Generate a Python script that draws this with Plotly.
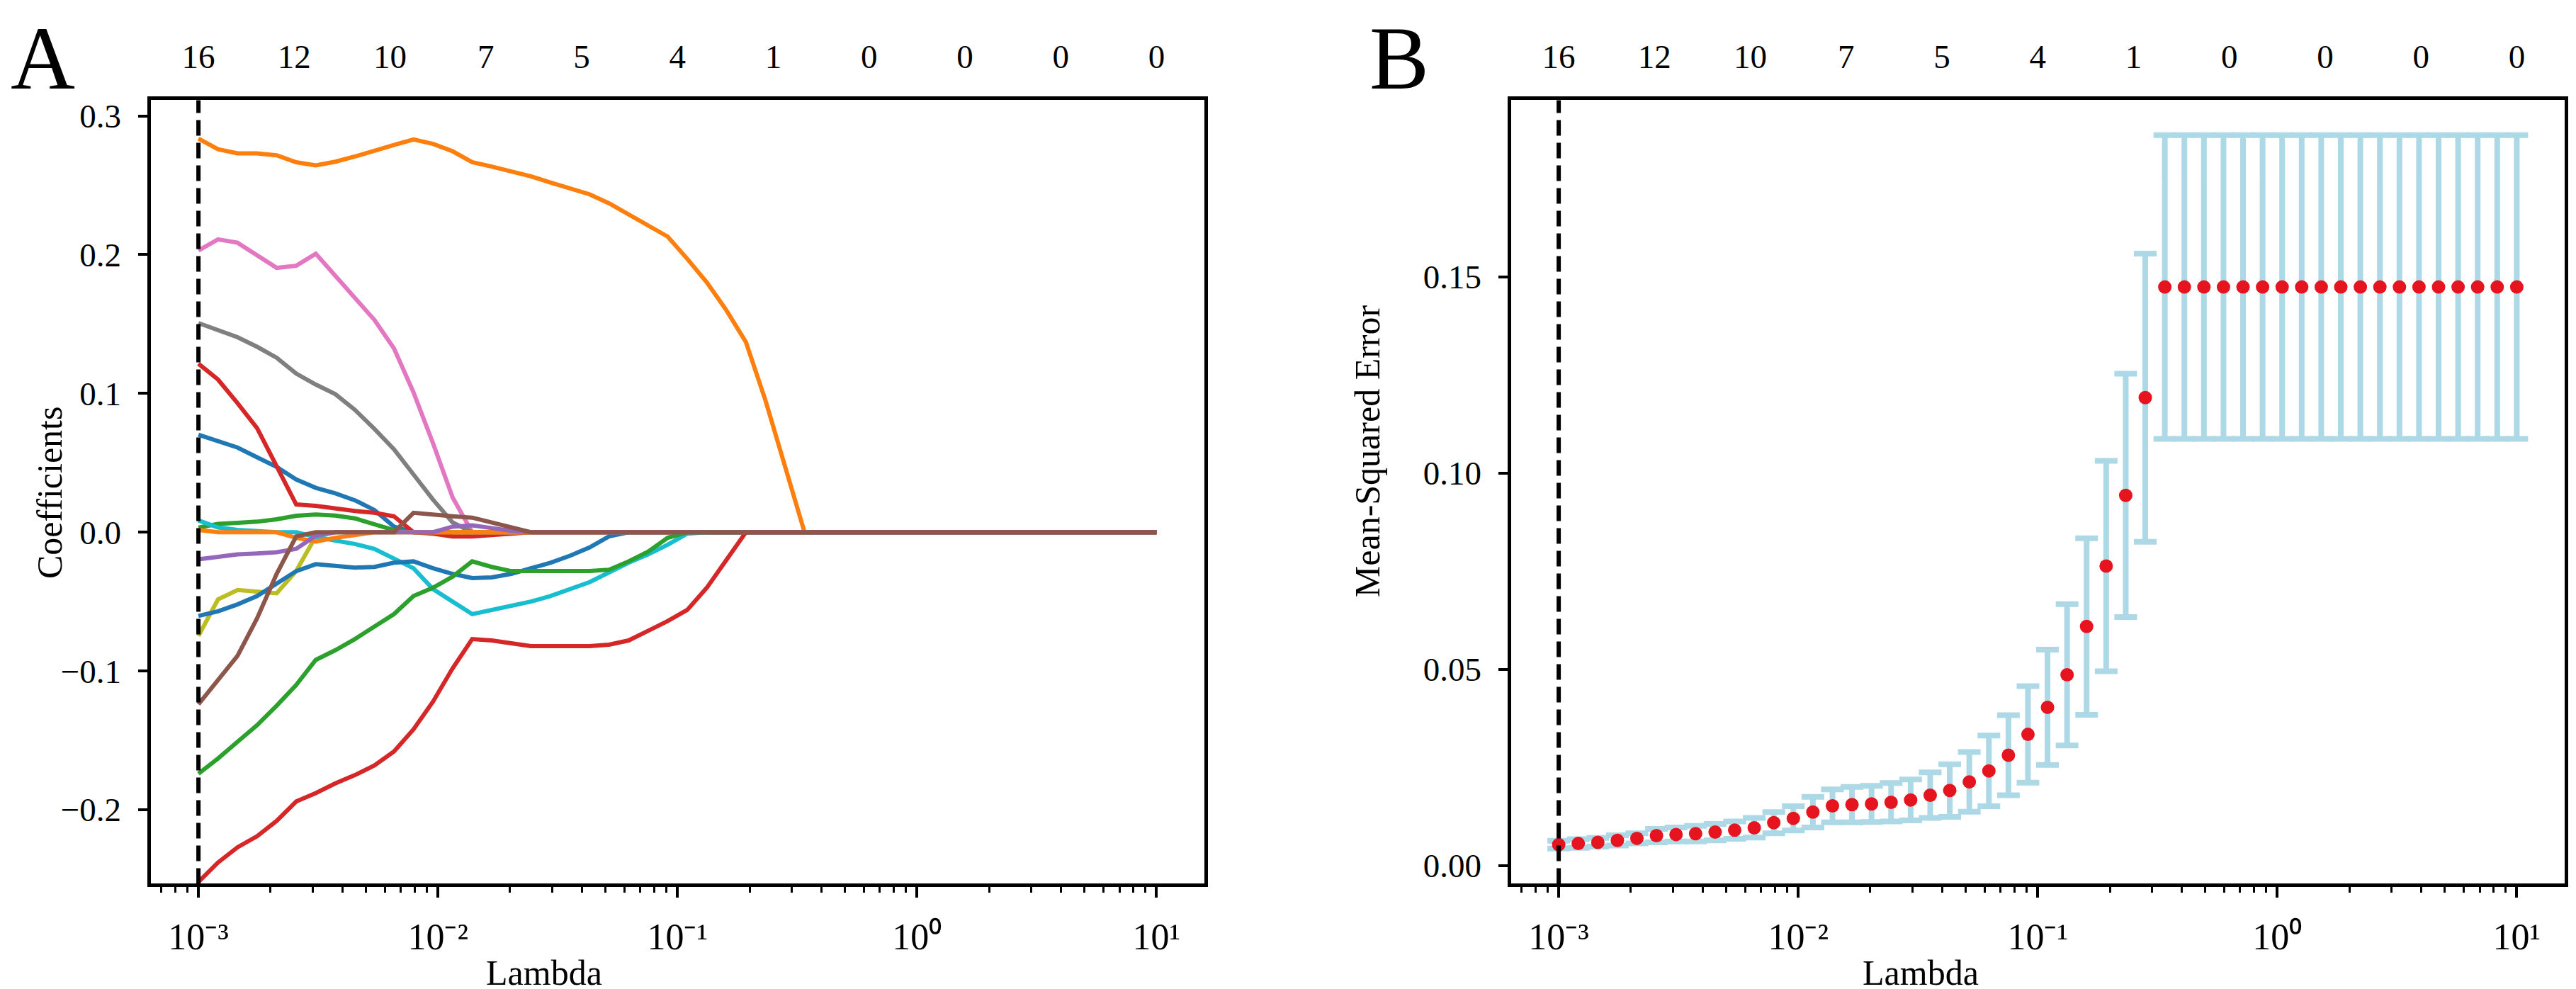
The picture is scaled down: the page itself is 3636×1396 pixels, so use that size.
import plotly.graph_objects as go

# lambda grid used for the path and for the CV curve
lambdas = [
    0.001, 0.00120679, 0.00145635, 0.00175751, 0.00212095, 0.00255955, 0.00308884,
    0.00372759, 0.00449843, 0.00542868, 0.00655129, 0.00790604, 0.00954095,
    0.01151395, 0.01389495, 0.01676833, 0.0202359, 0.02442053, 0.02947052,
    0.0355648, 0.04291934, 0.05179475, 0.06250552, 0.0754312, 0.09102982,
    0.10985411, 0.13257114, 0.15998587, 0.19306977, 0.23299518, 0.28117687,
    0.33932218, 0.40949151, 0.49417134, 0.59636233, 0.71968567, 0.86851137,
    1.04811313, 1.26485522, 1.52641797, 1.84206997, 2.22299648, 2.6826958,
    3.23745754, 3.90693994, 4.71486636, 5.68986603, 6.86648845, 8.28642773, 10.0,
]

# coefficient paths (first values, the rest stay at zero)
blue_pos = [0.0703, 0.066, 0.061, 0.054, 0.047, 0.038, 0.032, 0.028, 0.023, 0.016, 0.004]
orange_big = [0.2836, 0.276, 0.273, 0.273, 0.2716, 0.2666, 0.2643, 0.267, 0.2707, 0.2745,
              0.279, 0.283, 0.2798, 0.2745, 0.2666, 0.2635, 0.26, 0.2565, 0.252, 0.248,
              0.2435, 0.237, 0.229, 0.221, 0.213, 0.197, 0.18, 0.16, 0.137, 0.095, 0.048]
green_pos = [0.0034, 0.006, 0.0068, 0.0076, 0.0093, 0.0119, 0.0127, 0.012, 0.01, 0.006, 0.0015]
red_pos = [0.1214, 0.11, 0.093, 0.075, 0.0475, 0.02, 0.019, 0.017, 0.0153, 0.014, 0.0115,
           0.0, -0.001, -0.003, -0.003, -0.002, -0.001]
pink = [0.203, 0.211, 0.2086, 0.1995, 0.1905, 0.192, 0.2007, 0.1848, 0.1689, 0.153,
        0.1325, 0.1007, 0.064, 0.025]
gray = [0.1507, 0.146, 0.1405, 0.1336, 0.1257, 0.1143, 0.1064, 0.0995, 0.0882, 0.0745,
        0.0598, 0.0416, 0.0234, 0.007]
olive = [-0.0747, -0.0484, -0.0416, -0.043, -0.044, -0.028, -0.003]
cyan = [0.0085, 0.0034, 0.0017, 0.0008, 0.0, 0.0, -0.0034, -0.006, -0.0085, -0.012,
        -0.019, -0.026, -0.041, -0.05, -0.059, -0.056, -0.053, -0.05, -0.046, -0.041,
        -0.036, -0.029, -0.022, -0.016, -0.009, -0.001]
blue_neg = [-0.0603, -0.057, -0.052, -0.046, -0.037, -0.028, -0.023, -0.0246, -0.0255,
            -0.025, -0.022, -0.021, -0.026, -0.03, -0.033, -0.0325, -0.03, -0.026, -0.022,
            -0.017, -0.011, -0.003]
orange_small = [0.0017, 0.0, 0.0, 0.0, 0.0, -0.004, -0.0068, -0.004, -0.0017]
green_neg = [-0.174, -0.163, -0.151, -0.139, -0.125, -0.11, -0.092, -0.085, -0.077, -0.068,
             -0.059, -0.046, -0.04, -0.032, -0.021, -0.025, -0.028, -0.028, -0.028, -0.028,
             -0.028, -0.027, -0.021, -0.014, -0.004]
red_neg = [-0.252, -0.238, -0.227, -0.219, -0.208, -0.194, -0.188, -0.181, -0.175, -0.168,
           -0.158, -0.142, -0.122, -0.098, -0.077, -0.078, -0.08, -0.082, -0.082, -0.082,
           -0.082, -0.081, -0.078, -0.071, -0.064, -0.056, -0.04, -0.02]
purple = [-0.0195, -0.0178, -0.016, -0.0153, -0.0144, -0.012, -0.0025, 0.0, 0.0, 0.0,
          0.0, 0.0, 0.0, 0.004, 0.005, 0.003, 0.001]
brown = [-0.124, -0.106, -0.089, -0.062, -0.03, -0.003, 0.0, 0.0, 0.0, 0.0, 0.0,
         0.014, 0.0125, 0.0115, 0.0105, 0.007, 0.003]

# drawing order follows the colour cycle
paths = [
    (blue_pos, "#1f77b4"), (orange_big, "#ff7f0e"), (green_pos, "#2ca02c"),
    (red_pos, "#d62728"), (pink, "#e377c2"), (gray, "#7f7f7f"), (olive, "#bcbd22"),
    (cyan, "#17becf"), (blue_neg, "#1f77b4"), (orange_small, "#ff7f0e"),
    (green_neg, "#2ca02c"), (red_neg, "#d62728"), (purple, "#9467bd"), (brown, "#8c564b"),
]

# cross-validation curve
mse_mean = [0.0053, 0.0056, 0.0059, 0.0064, 0.0069, 0.0076, 0.0079, 0.0081, 0.0085, 0.009,
            0.0096, 0.0109, 0.012, 0.0136, 0.0152, 0.0155, 0.0157, 0.0161, 0.0167, 0.0179,
            0.0191, 0.0213, 0.0241, 0.0281, 0.0334, 0.0403, 0.0486, 0.0609, 0.0763, 0.0943,
            0.1192] + [0.1474] * 19
mse_err = [0.001, 0.0011, 0.0011, 0.0013, 0.0013, 0.0017, 0.0018, 0.002, 0.0021, 0.0022,
           0.0025, 0.0027, 0.0031, 0.0039, 0.0042, 0.0045, 0.0046, 0.0049, 0.0052, 0.0058,
           0.0067, 0.0076, 0.009, 0.0102, 0.0123, 0.0147, 0.018, 0.0225, 0.0268, 0.031,
           0.0367] + [0.0387] * 19

best_lambda = 0.001

# bottom axis labels
decade_ticks = [0.001, 0.01, 0.1, 1, 10]
decade_labels = ["10\u207b\u00b3", "10\u207b\u00b2", "10\u207b\u00b9", "10\u2070", "10\u00b9"]

# number of non-zero coefficients shown on top
top_tick_exps = [-3, -2.6, -2.2, -1.8, -1.4, -1.0, -0.6, -0.2, 0.2, 0.6, 1.0]
top_tick_labels = ["16", "12", "10", "7", "5", "4", "1", "0", "0", "0", "0"]

FONT = "Liberation Serif, Times New Roman, serif"
W, H = 3636, 1396

fig = go.Figure()

for values, color in paths:
    ys = values + [0.0] * (len(lambdas) - len(values))
    fig.add_trace(go.Scatter(x=lambdas, y=ys, mode="lines", line=dict(color=color, width=6),
                             xaxis="x", yaxis="y", showlegend=False))

fig.add_trace(go.Scatter(
    x=lambdas, y=mse_mean, mode="markers",
    marker=dict(color="#e6141e", size=19),
    error_y=dict(type="data", array=mse_err, visible=True, color="#add8e6",
                 thickness=8, width=16),
    xaxis="x2", yaxis="y2", showlegend=False,
))

# invisible traces so the top axes get drawn
fig.add_trace(go.Scatter(x=[lambdas[0]], y=[0], mode="markers", opacity=0,
                         xaxis="x3", yaxis="y", showlegend=False, hoverinfo="skip"))
fig.add_trace(go.Scatter(x=[lambdas[0]], y=[0], mode="markers", opacity=0,
                         xaxis="x4", yaxis="y2", showlegend=False, hoverinfo="skip"))

for xref, yref in [("x", "y"), ("x2", "y2")]:
    fig.add_shape(type="line", xref=xref, yref=yref + " domain", x0=best_lambda, x1=best_lambda,
                  y0=0, y1=1, line=dict(color="black", width=6, dash="22px,10px"))

dom_a = [204.5 / W, 1692 / W]
dom_b = [2124.5 / W, 3612 / W]
dom_y = [1 - 1240 / H, 1 - 130.8 / H]

minor_vals = [m * 10 ** e for e in range(-4, 1) for m in range(2, 10) if m * 10 ** e > 0.00063]

tick_font = dict(family=FONT, size=47, color="black")
decade_font = dict(family=FONT, size=52, color="black")


def bottom_axis(domain, anchor):
    return dict(
        domain=domain, anchor=anchor, type="log", range=[-3.2, 1.2],
        tickmode="array", tickvals=decade_ticks, ticktext=decade_labels,
        showgrid=False, zeroline=False,
        showline=True, mirror=True, linecolor="black", linewidth=5,
        ticks="outside", ticklen=15, tickwidth=4, tickcolor="black",
        tickfont=decade_font, ticklabelstandoff=10,
        minor=dict(tickmode="array", tickvals=minor_vals, ticks="outside",
                   ticklen=8, tickwidth=3, tickcolor="black", showgrid=False),
    )


def top_axis(over, anchor):
    return dict(
        overlaying=over, anchor=anchor, side="top", type="log", range=[-3.2, 1.2],
        tickmode="array", tickvals=[10 ** e for e in top_tick_exps], ticktext=top_tick_labels,
        ticks="", showgrid=False, zeroline=False, showline=False, tickfont=tick_font,
        ticklabelstandoff=35,
    )


def left_axis(domain, anchor, rng, vals, fmt):
    return dict(
        domain=domain, anchor=anchor, range=rng, tickmode="array", tickvals=vals,
        tickformat=fmt, showgrid=False, zeroline=False,
        showline=True, mirror=True, linecolor="black", linewidth=5,
        ticks="outside", ticklen=13, tickwidth=4, tickcolor="black", tickfont=tick_font,
        ticklabelstandoff=14,
    )


fig.update_layout(
    width=W, height=H, margin=dict(l=0, r=0, t=0, b=0),
    paper_bgcolor="white", plot_bgcolor="white", font=dict(family=FONT, color="black"),
    xaxis=bottom_axis(dom_a, "y"),
    xaxis2=bottom_axis(dom_b, "y2"),
    xaxis3=top_axis("x", "y"),
    xaxis4=top_axis("x2", "y2"),
    yaxis=left_axis(dom_y, "x", [-0.2533, 0.3113], [-0.2, -0.1, 0.0, 0.1, 0.2, 0.3], ".1f"),
    yaxis2=left_axis(dom_y, "x2", [-0.00466, 0.195], [0.0, 0.05, 0.10, 0.15], ".2f"),
)

labels = [
    ("A", 52.5 / W, 1.0, 126, 0, "top"),
    ("B", 1966.5 / W, 1.0, 126, 0, "top"),
    ("Coefficients", 62 / W, 1 - 687 / H, 50, -90, "middle"),
    ("Mean-Squared Error", 1922 / W, 1 - 628 / H, 50, -90, "middle"),
    ("Lambda", 760 / W, 1 - 1366 / H, 50, 0, "middle"),
    ("Lambda", 2703 / W, 1 - 1366 / H, 50, 0, "middle"),
]
for text, x, y, size, angle, yanchor in labels:
    fig.add_annotation(text=text, x=x, y=y, xref="paper", yref="paper", showarrow=False,
                       xanchor="center", yanchor=yanchor, textangle=angle,
                       font=dict(family=FONT, size=size, color="black"))

fig.write_html("out.html")
